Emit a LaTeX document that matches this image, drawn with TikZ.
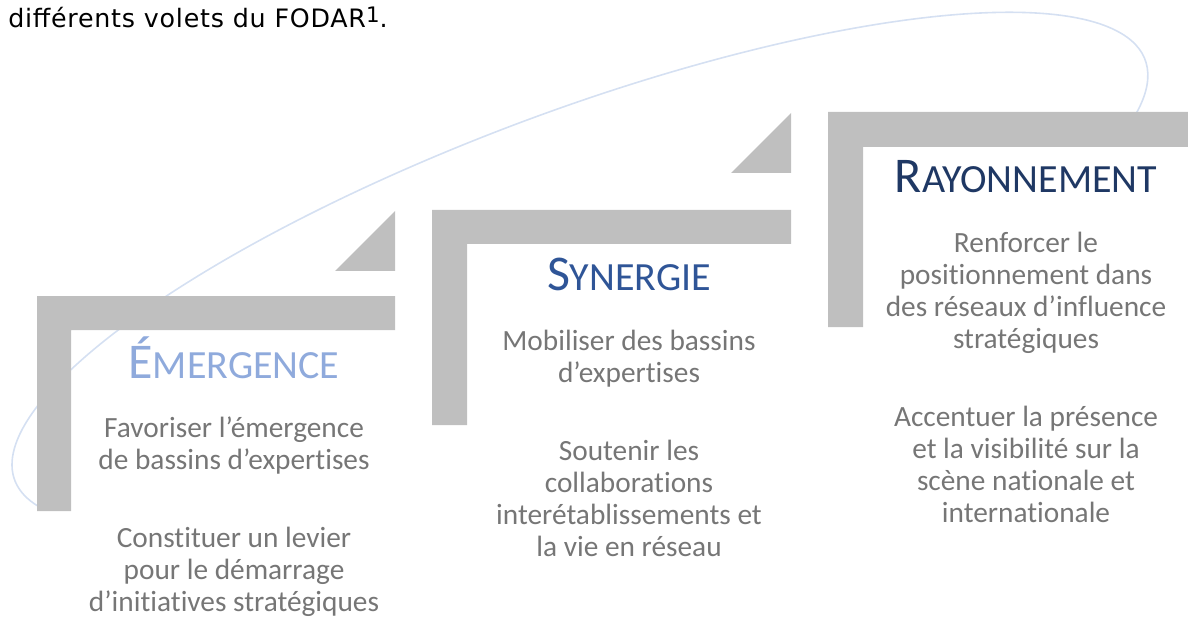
\documentclass[tikz,border=0pt]{standalone}
\usepackage{fontspec}
\setmainfont{Carlito}[Ligatures=NoCommon]
\newfontfamily\introfont{DejaVu Sans}[LetterSpace=3]
\usetikzlibrary{positioning}

\definecolor{bargrey}{HTML}{BFBFBF}
\definecolor{curveblue}{HTML}{D5E0F2}
\definecolor{emergeblue}{HTML}{8FAADC}
\definecolor{synblue}{HTML}{2F5597}
\definecolor{rayblue}{HTML}{1F3864}
\definecolor{bodygrey}{HTML}{767676}

\newcommand{\stepname}[2]{{\fontsize{37.5}{37.5}\selectfont #1}{\fontsize{30}{30}\selectfont #2}}

\begin{document}
\begin{tikzpicture}[
    x=0.75pt, y=-0.75pt,
    stepbar/.style={fill=bargrey, draw=none},
    steptitle/.style={anchor=base, inner sep=0pt},
    stepbody/.style={align=center, inner sep=0pt, text=bodygrey, font=\fontsize{22}{24}\selectfont},
    arcline/.style={draw=curveblue, line width=1.2pt}
]
\useasboundingbox (0,0) rectangle (1188,620);

% Intro line
\node[anchor=base west, inner sep=0pt, font=\introfont\fontsize{19}{22}\selectfont] (intro) at (8,28) {différents volets du FODAR\raisebox{3.75pt}{\fontsize{16}{16}\selectfont 1}.};

% Curve behind the steps
\begin{scope}[shift={(580,270)}, x=0.75pt, y=0.75pt, rotate=20.4]
\draw[arcline] (192:603 and 159) arc[start angle=192, end angle=-18, x radius=603, y radius=159];
\end{scope}

% Step bars
\fill[stepbar] (37,296) -- (395,296) -- (395,330) -- (71,330) -- (71,511) -- (37,511) -- cycle;
\fill[stepbar] (395,211) -- (395,271) -- (335,271) -- cycle;
\fill[stepbar] (432,210) -- (791,210) -- (791,244) -- (467,244) -- (467,425) -- (432,425) -- cycle;
\fill[stepbar] (791,113) -- (791,173) -- (731,173) -- cycle;
\fill[stepbar] (828,112) -- (1188,112) -- (1188,147) -- (863,147) -- (863,327) -- (828,327) -- cycle;

% Emergence
\node[steptitle, text=emergeblue] (emergence) at (234,378) {\stepname{É}{MERGENCE}};
\node[stepbody, below=29.2pt of emergence.base] (emergencetext) {Favoriser l’émergence\\de bassins d’expertises\\[34.5pt]Constituer un levier\\pour le démarrage\\d’initiatives stratégiques};

% Synergie
\node[steptitle, text=synblue] (synergie) at (629,291) {\stepname{S}{YNERGIE}};
\node[stepbody, below=29.2pt of synergie.base] (synergietext) {Mobiliser des bassins\\d’expertises\\[34.5pt]Soutenir les\\collaborations\\interétablissements et\\la vie en réseau};

% Rayonnement
\node[steptitle, text=rayblue] (rayonnement) at (1026,193) {\stepname{R}{AYONNEMENT}};
\node[stepbody, below=29.2pt of rayonnement.base] (rayonnementtext) {Renforcer le\\positionnement dans\\des réseaux d’influence\\stratégiques\\[34.5pt]Accentuer la présence\\et la visibilité sur la\\scène nationale et\\internationale};

\end{tikzpicture}
\end{document}
